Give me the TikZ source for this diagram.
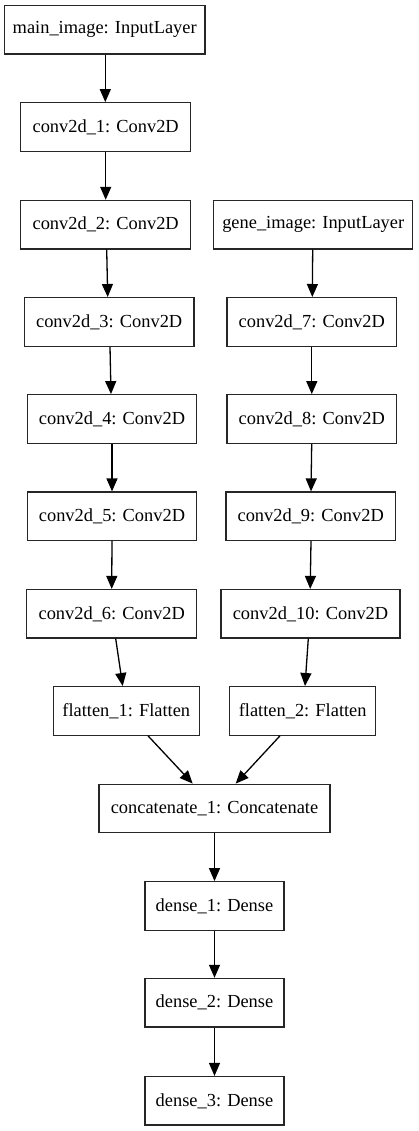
\documentclass[tikz,border=0pt]{standalone}
\usepackage{fontspec}
\setmainfont{Liberation Serif}
\usetikzlibrary{arrows.meta}
\begin{document}
\begin{tikzpicture}[x=1pt,y=1pt,
  layer/.style={draw=black!85, line width=1.3pt, inner sep=0pt, minimum height=48.5pt,
    font=\fontsize{18.4}{22}\selectfont, anchor=center},
  edge/.style={line width=1.3pt, -{Triangle[length=13pt,width=11pt]}}]
\useasboundingbox (0,0) rectangle (418,-1131);
\node[layer, minimum width=200.7pt] (main) at (104.7,-29.7) {main\_image: InputLayer};
\node[layer, minimum width=170pt] (c1) at (105.7,-127) {conv2d\_1: Conv2D};
\node[layer, minimum width=170pt] (c2) at (105.7,-224.7) {conv2d\_2: Conv2D};
\node[layer, minimum width=199pt] (gene) at (313.2,-224.7) {gene\_image: InputLayer};
\node[layer, minimum width=169.7pt] (c3) at (109.2,-321.9) {conv2d\_3: Conv2D};
\node[layer, minimum width=169.7pt] (c7) at (311.8,-321.9) {conv2d\_7: Conv2D};
\node[layer, minimum width=169.4pt] (c4) at (112,-419) {conv2d\_4: Conv2D};
\node[layer, minimum width=169.7pt] (c8) at (311.8,-419) {conv2d\_8: Conv2D};
\node[layer, minimum width=169.4pt] (c5) at (112,-516.3) {conv2d\_5: Conv2D};
\node[layer, minimum width=169.3pt] (c9) at (310.7,-516.3) {conv2d\_9: Conv2D};
\node[layer, minimum width=170pt] (c6) at (111.7,-613.8) {conv2d\_6: Conv2D};
\node[layer, minimum width=179pt] (c10) at (310.5,-613.8) {conv2d\_10: Conv2D};
\node[layer, minimum width=146pt] (f1) at (126.3,-710.9) {flatten\_1: Flatten};
\node[layer, minimum width=146pt] (f2) at (302.7,-710.9) {flatten\_2: Flatten};
\node[layer, minimum width=231pt] (cat) at (214.5,-808.5) {concatenate\_1: Concatenate};
\node[layer, minimum width=139pt] (d1) at (214.5,-906) {dense\_1: Dense};
\node[layer, minimum width=139pt] (d2) at (214.5,-1002.7) {dense\_2: Dense};
\node[layer, minimum width=139pt] (d3) at (214.5,-1100.8) {dense\_3: Dense};
\draw[edge] ([xshift=0.6pt]main.south) -- ([xshift=-0.4pt]c1.north);
\draw[edge] (c1.south) -- (c2.north);
\draw[edge] ([xshift=1pt]c2.south) -- ([xshift=-1.5pt]c3.north);
\draw[edge] ([xshift=0.8pt]c3.south) -- ([xshift=-1pt]c4.north);
\draw[edge] (c4.south) -- (c5.north);
\draw[edge] (c5.south) -- (c6.north);
\draw[edge] ([xshift=-0.5pt]gene.south) -- ([xshift=0.5pt]c7.north);
\draw[edge] (c7.south) -- (c8.north);
\draw[edge] ([xshift=-0.1pt]c8.south) -- ([xshift=0.3pt]c9.north);
\draw[edge] ([xshift=0.3pt]c9.south) -- ([xshift=-0.3pt]c10.north);
\draw[edge] ([xshift=4pt]c6.south) -- ([xshift=-3.6pt]f1.north);
\draw[edge] ([xshift=-2.2pt]c10.south) -- ([xshift=2.3pt]f2.north);
\draw[edge] ([xshift=21.7pt]f1.south) -- ([xshift=-21.8pt]cat.north);
\draw[edge] ([xshift=-22.7pt]f2.south) -- ([xshift=21.2pt]cat.north);
\draw[edge] (cat.south) -- (d1.north);
\draw[edge] (d1.south) -- (d2.north);
\draw[edge] (d2.south) -- (d3.north);
\end{tikzpicture}
\end{document}
